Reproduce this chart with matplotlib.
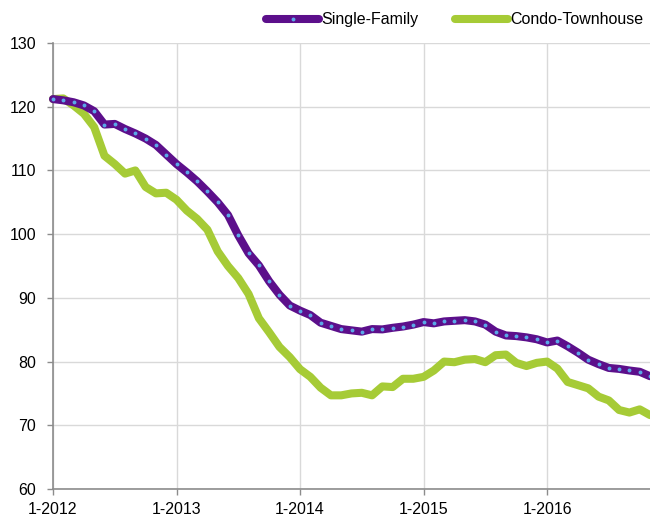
import matplotlib.pyplot as plt
import matplotlib as mpl
import numpy as np

mpl.rc('font', family=['Liberation Sans', 'DejaVu Sans'])

# monthly index values, 1-2012 .. 11-2016
single_family = [121.2, 121.0, 120.7, 120.2, 119.3, 117.2, 117.3, 116.5, 115.8, 115.0,
                 114.0, 112.5, 111.0, 109.7, 108.3, 106.7, 105.0, 103.0, 99.8, 97.0,
                 95.1, 92.6, 90.5, 88.8, 88.0, 87.3, 86.1, 85.6, 85.1, 84.9,
                 84.7, 85.1, 85.05, 85.3, 85.5, 85.8, 86.2, 86.0, 86.3, 86.4,
                 86.5, 86.3, 85.8, 84.7, 84.1, 84.0, 83.8, 83.5, 83.0, 83.3,
                 82.4, 81.4, 80.3, 79.6, 79.0, 78.85, 78.6, 78.4, 77.7]
condo_townhouse = [121.2, 121.3, 120.2, 118.9, 116.8, 112.3, 111.0, 109.5, 110.0, 107.4,
                   106.4, 106.5, 105.4, 103.7, 102.4, 100.7, 97.3, 95.0, 93.1, 90.6,
                   86.8, 84.6, 82.3, 80.7, 78.8, 77.6, 75.9, 74.7, 74.7, 75.0,
                   75.1, 74.7, 76.1, 76.0, 77.3, 77.3, 77.6, 78.6, 80.0, 79.9,
                   80.3, 80.4, 79.9, 81.0, 81.1, 79.8, 79.3, 79.8, 80.0, 78.9,
                   76.8, 76.3, 75.8, 74.5, 73.9, 72.4, 72.0, 72.5, 71.6]
tick_months = [0, 12, 24, 36, 48]
tick_labels = ['1-2012', '1-2013', '1-2014', '1-2015', '1-2016']

months = np.arange(len(single_family))

fig = plt.figure(figsize=(6.5, 5.19), dpi=100)
ax = fig.add_axes([53/650, 30/519, 597/650, 446/519])

ax.plot(months, single_family, color='#5c0f8b', lw=5.8, marker='o', ms=2.8,
        mfc='#5aa8e8', mec='#5aa8e8', mew=0, solid_capstyle='round',
        solid_joinstyle='round', clip_on=False, zorder=3, label='Single-Family')
ax.plot(months, condo_townhouse, color='#a6cb36', lw=5.8, marker='o', ms=2.8,
        mfc='#a6cb36', mec='#a6cb36', mew=0, solid_capstyle='round',
        solid_joinstyle='round', clip_on=False, zorder=2, label='Condo-Townhouse')

ax.set_xlim(0, 58)
ax.set_ylim(60, 130)
ax.set_yticks(range(60, 131, 10))
ax.set_xticks(tick_months)
ax.set_xticklabels(tick_labels)

ax.grid(True, color='#d9d9d9', lw=1)
ax.set_axisbelow(True)
for s in ['top', 'right']:
    ax.spines[s].set_visible(False)
for s in ['left', 'bottom']:
    ax.spines[s].set_color('#8c8c8c')
    ax.spines[s].set_linewidth(1.2)
ax.tick_params(axis='both', colors='#8c8c8c', labelcolor='black', labelsize=11.5,
               length=4, width=1)
ax.tick_params(axis='y', pad=8)
ax.tick_params(axis='x', pad=5)

leg = ax.legend(loc='center right', bbox_to_anchor=(1.0, 1.052), ncol=2, frameon=False,
                fontsize=11.5, handlelength=3.3, handletextpad=0.15, columnspacing=2.3,
                borderaxespad=0)

fig.savefig('out.png', dpi=100)
